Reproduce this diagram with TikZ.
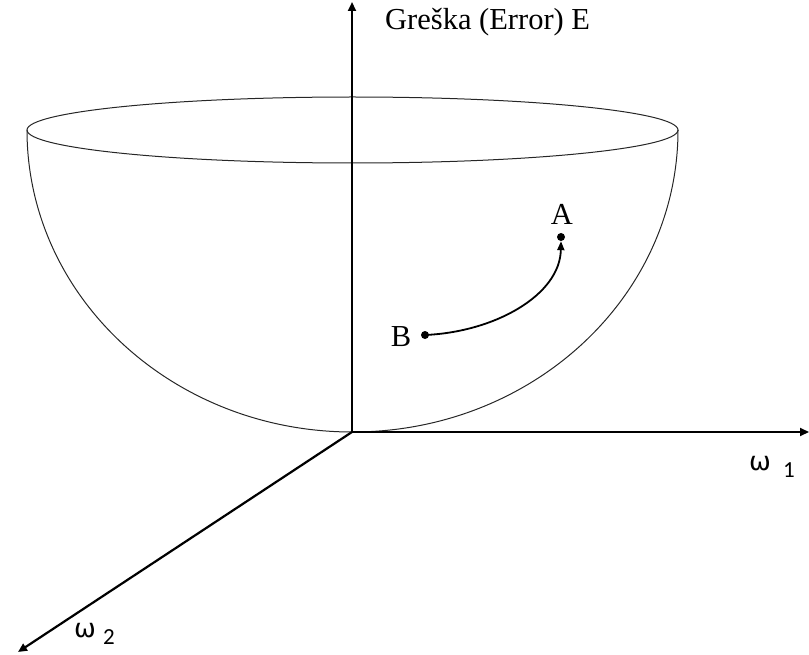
\documentclass[tikz,border=0pt]{standalone}
\usepackage{fontspec}
\setmainfont{Liberation Serif}
\newfontfamily\omegafont{DejaVu Sans}
\newfontfamily\subfont{Carlito}
\usetikzlibrary{arrows.meta}
\tikzset{
  axis/.style={line width=2.2pt, -{Triangle[length=9pt,width=8pt]}},
  bowl/.style={line width=1pt, draw=black!85},
  lbl/.style={font=\fontsize{30.5}{33}\selectfont, inner sep=0pt},
  omlbl/.style={font=\omegafont\fontsize{26}{28}\selectfont, inner sep=0pt},
  sublbl/.style={font=\subfont\fontsize{23}{25}\selectfont, inner sep=0pt},
  pt/.style={circle, fill=black, inner sep=0pt, minimum size=8pt}
}
\begin{document}
\begin{tikzpicture}[x=1pt,y=-1pt]
\useasboundingbox (0,0) rectangle (809,655);
% bowl
\draw[bowl] (352.5,130) ellipse [x radius=325.5, y radius=33];
\draw[bowl] (27,130) arc [start angle=180, end angle=360, x radius=325.5, y radius=-302];
% axes
\coordinate (O) at (352,432);
\coordinate (Etop) at (352,2);
\coordinate (W1) at (809,432);
\coordinate (W2) at (18,652);
\draw[axis] (O) -- (Etop);
\draw[axis] (O) -- (W1);
\draw[axis] (O) -- (W2);
% labels
\node[lbl, anchor=west] (elbl) at (385,22) {Greška (Error) E};
\node[omlbl] (om1) at (760,464) {ω};
\node[sublbl] (s1) at (789,470) {1};
\node[omlbl] (om2) at (85,631) {ω};
\node[sublbl] (s2) at (109,637) {2};
% points
\node[pt] (A) at (561,237) {};
\node[pt] (B) at (425,335) {};
\node[lbl] (Alab) at (562,214) {A};
\node[lbl] (Blab) at (401,337) {B};
\draw[line width=1.8pt, -{Triangle[length=9pt,width=7pt]}] (B.center) .. controls (495,332) and (560,295) .. (A.south);
\end{tikzpicture}
\end{document}
